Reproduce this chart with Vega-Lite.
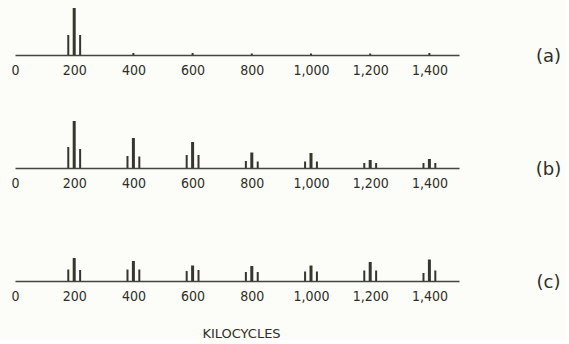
{
  "$schema": "https://vega.github.io/schema/vega-lite/v6.json",
  "background": "#fcfcf8",
  "padding": {"left": 10, "top": 5, "right": 5, "bottom": 0},
  "bounds": "flush",
  "spacing": 63,
  "datasets": {
    "lines": [
      {"panel": "a", "freq": 180, "amp": 20, "line": "sideband"},
      {"panel": "a", "freq": 200, "amp": 47, "line": "carrier"},
      {"panel": "a", "freq": 220, "amp": 20, "line": "sideband"},
      {"panel": "a", "freq": 400, "amp": 2, "line": "sideband"},
      {"panel": "a", "freq": 600, "amp": 2, "line": "sideband"},
      {"panel": "a", "freq": 800, "amp": 1.5, "line": "sideband"},
      {"panel": "a", "freq": 1000, "amp": 1.5, "line": "sideband"},
      {"panel": "a", "freq": 1200, "amp": 1.5, "line": "sideband"},
      {"panel": "a", "freq": 1400, "amp": 2, "line": "sideband"},

      {"panel": "b", "freq": 180, "amp": 21, "line": "sideband"},
      {"panel": "b", "freq": 200, "amp": 47, "line": "carrier"},
      {"panel": "b", "freq": 220, "amp": 19, "line": "sideband"},
      {"panel": "b", "freq": 380, "amp": 12, "line": "sideband"},
      {"panel": "b", "freq": 400, "amp": 30, "line": "carrier"},
      {"panel": "b", "freq": 420, "amp": 11.5, "line": "sideband"},
      {"panel": "b", "freq": 580, "amp": 13, "line": "sideband"},
      {"panel": "b", "freq": 600, "amp": 26, "line": "carrier"},
      {"panel": "b", "freq": 620, "amp": 13, "line": "sideband"},
      {"panel": "b", "freq": 780, "amp": 7, "line": "sideband"},
      {"panel": "b", "freq": 800, "amp": 15.5, "line": "carrier"},
      {"panel": "b", "freq": 820, "amp": 6.5, "line": "sideband"},
      {"panel": "b", "freq": 980, "amp": 6.5, "line": "sideband"},
      {"panel": "b", "freq": 1000, "amp": 15, "line": "carrier"},
      {"panel": "b", "freq": 1020, "amp": 6.5, "line": "sideband"},
      {"panel": "b", "freq": 1180, "amp": 5, "line": "sideband"},
      {"panel": "b", "freq": 1200, "amp": 8, "line": "carrier"},
      {"panel": "b", "freq": 1220, "amp": 5, "line": "sideband"},
      {"panel": "b", "freq": 1380, "amp": 5, "line": "sideband"},
      {"panel": "b", "freq": 1400, "amp": 9, "line": "carrier"},
      {"panel": "b", "freq": 1420, "amp": 5, "line": "sideband"},

      {"panel": "c", "freq": 180, "amp": 11.5, "line": "sideband"},
      {"panel": "c", "freq": 200, "amp": 23, "line": "carrier"},
      {"panel": "c", "freq": 220, "amp": 11, "line": "sideband"},
      {"panel": "c", "freq": 380, "amp": 11.5, "line": "sideband"},
      {"panel": "c", "freq": 400, "amp": 20, "line": "carrier"},
      {"panel": "c", "freq": 420, "amp": 11.5, "line": "sideband"},
      {"panel": "c", "freq": 580, "amp": 10, "line": "sideband"},
      {"panel": "c", "freq": 600, "amp": 15.5, "line": "carrier"},
      {"panel": "c", "freq": 620, "amp": 11, "line": "sideband"},
      {"panel": "c", "freq": 780, "amp": 9, "line": "sideband"},
      {"panel": "c", "freq": 800, "amp": 15, "line": "carrier"},
      {"panel": "c", "freq": 820, "amp": 9, "line": "sideband"},
      {"panel": "c", "freq": 980, "amp": 9.5, "line": "sideband"},
      {"panel": "c", "freq": 1000, "amp": 15.5, "line": "carrier"},
      {"panel": "c", "freq": 1020, "amp": 9.5, "line": "sideband"},
      {"panel": "c", "freq": 1180, "amp": 10.5, "line": "sideband"},
      {"panel": "c", "freq": 1200, "amp": 19, "line": "carrier"},
      {"panel": "c", "freq": 1220, "amp": 10.5, "line": "sideband"},
      {"panel": "c", "freq": 1380, "amp": 8, "line": "sideband"},
      {"panel": "c", "freq": 1400, "amp": 21.5, "line": "carrier"},
      {"panel": "c", "freq": 1420, "amp": 10.5, "line": "sideband"}
    ]
  },
  "config": {
    "view": {"stroke": null},
    "axis": {
      "grid": false,
      "domainColor": "#45453d",
      "domainWidth": 1.5,
      "labelColor": "#2e2e28",
      "titleColor": "#2e2e28",
      "labelFont": "DejaVu Sans Condensed, DejaVu Sans",
      "titleFont": "DejaVu Sans",
      "titleFontWeight": "normal"
    }
  },
  "vconcat": [
    {
      "width": 444, "height": 50,
      "data": {"name": "lines"},
      "transform": [{"filter": "datum.panel === 'a'"}],
      "mark": {"type": "rule", "color": "#36362f"},
      "encoding": {
        "x": {"field": "freq", "type": "quantitative", "scale": {"domain": [0, 1500], "nice": false},
          "axis": {"values": [0, 200, 400, 600, 800, 1000, 1200, 1400], "format": ",d", "title": null, "ticks": false, "labelPadding": 8, "labelFlush": false, "labelOverlap": false, "labelFontSize": 14}},
        "y": {"field": "amp", "type": "quantitative", "scale": {"domain": [0, 50]},
          "axis": {"orient": "right", "title": "(a)", "labels": false, "ticks": false, "domain": false, "titleAngle": 0, "titleX": 89, "titleY": 51, "titleAlign": "center", "titleBaseline": "middle", "titleFontSize": 18}},
        "y2": {"datum": 0},
        "strokeWidth": {"field": "line", "type": "nominal", "scale": {"domain": ["carrier", "sideband"], "range": [3, 2]}, "legend": null}
      }
    },
    {
      "width": 444, "height": 50,
      "data": {"name": "lines"},
      "transform": [{"filter": "datum.panel === 'b'"}],
      "mark": {"type": "rule", "color": "#36362f"},
      "encoding": {
        "x": {"field": "freq", "type": "quantitative", "scale": {"domain": [0, 1500], "nice": false},
          "axis": {"values": [0, 200, 400, 600, 800, 1000, 1200, 1400], "format": ",d", "title": null, "ticks": false, "labelPadding": 8, "labelFlush": false, "labelOverlap": false, "labelFontSize": 14}},
        "y": {"field": "amp", "type": "quantitative", "scale": {"domain": [0, 50]},
          "axis": {"orient": "right", "title": "(b)", "labels": false, "ticks": false, "domain": false, "titleAngle": 0, "titleX": 89, "titleY": 51, "titleAlign": "center", "titleBaseline": "middle", "titleFontSize": 18}},
        "y2": {"datum": 0},
        "strokeWidth": {"field": "line", "type": "nominal", "scale": {"domain": ["carrier", "sideband"], "range": [3, 2]}, "legend": null}
      }
    },
    {
      "width": 444, "height": 50,
      "data": {"name": "lines"},
      "transform": [{"filter": "datum.panel === 'c'"}],
      "mark": {"type": "rule", "color": "#36362f"},
      "encoding": {
        "x": {"field": "freq", "type": "quantitative", "scale": {"domain": [0, 1500], "nice": false},
          "axis": {"values": [0, 200, 400, 600, 800, 1000, 1200, 1400], "format": ",d", "title": "KILOCYCLES", "ticks": false, "labelPadding": 8, "labelFlush": false, "labelOverlap": false, "labelFontSize": 14, "titleX": 226, "titleY": 52, "titleAlign": "center", "titleBaseline": "middle", "titleFontSize": 13}},
        "y": {"field": "amp", "type": "quantitative", "scale": {"domain": [0, 50]},
          "axis": {"orient": "right", "title": "(c)", "labels": false, "ticks": false, "domain": false, "titleAngle": 0, "titleX": 89, "titleY": 51, "titleAlign": "center", "titleBaseline": "middle", "titleFontSize": 18}},
        "y2": {"datum": 0},
        "strokeWidth": {"field": "line", "type": "nominal", "scale": {"domain": ["carrier", "sideband"], "range": [3, 2]}, "legend": null}
      }
    }
  ]
}
